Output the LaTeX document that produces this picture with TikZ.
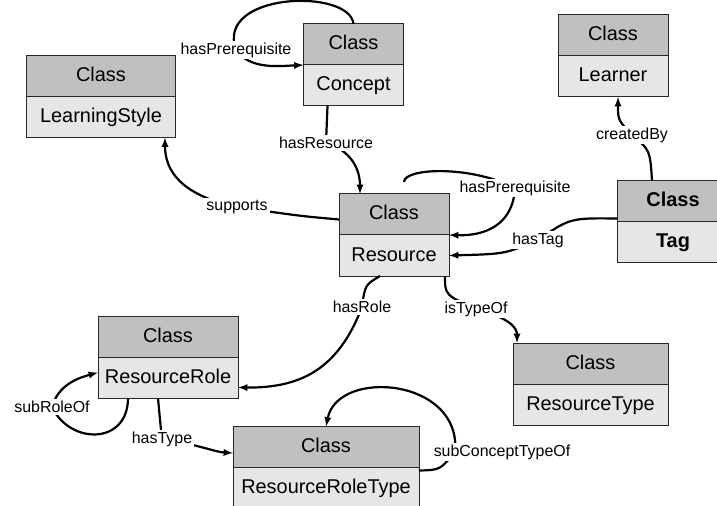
\documentclass[tikz,border=0pt]{standalone}
\usepackage{fontspec}
\setmainfont{Liberation Sans}
\usetikzlibrary{positioning}
\definecolor{headgray}{RGB}{192,192,192}
\definecolor{bodygray}{RGB}{230,230,230}
\definecolor{framegray}{RGB}{40,40,40}
\newcommand{\boxfont}{\fontsize{20}{24}\selectfont}
\newcommand{\lblfont}{\fontsize{16}{19}\selectfont}
\tikzset{arrow/.style={->, >=latex, line width=2.2bp}}
\tikzset{edgelabel/.style={font=\lblfont, fill=white, inner sep=2bp}}
\tikzset{classhead/.style={draw=framegray, line width=1bp, fill=headgray, font=\boxfont,
    minimum height=41bp, text height=15bp, text depth=4bp, inner sep=0pt, outer sep=0pt}}
\tikzset{classbody/.style={classhead, fill=bodygray}}
\newcommand{\classbox}[5][]{%
  \node[classhead, minimum width=#4, #1] (#2H) at (#3) {Class};
  \node[classbody, minimum width=#4, #1, below=0pt of #2H] (#2) {#5};}

\begin{document}
\begin{tikzpicture}[x=1bp, y=-1bp]
      \useasboundingbox (0,0) rectangle (717,506);

      \classbox{ls}{101,76}{148bp}{LearningStyle}
      \classbox{con}{353.5,44.5}{100bp}{Concept}
      \classbox{lrn}{613,35.5}{110bp}{Learner}
      \classbox{res}{394,214.5}{110bp}{Resource}
      \classbox[font=\boxfont\bfseries]{tag}{673,201}{112bp}{Tag}
      \classbox{rr}{168,336.5}{140bp}{ResourceRole}
      \classbox{rrt}{326,447}{186bp}{ResourceRoleType}
      \classbox{rt}{590.5,363.5}{155bp}{ResourceType}

      \draw[arrow] (conH.north) .. controls (350,-12) and (215,-8) .. (236,50)
        node[edgelabel] (preC) {hasPrerequisite} .. controls (250,70) and (280,66) .. (con.north west);
      \draw[arrow] ([xshift=-26bp]con.south) .. controls (326,125) .. (326,143)
        node[edgelabel] (resof) {hasResource} .. controls (350,150) and (360,168) .. ([xshift=-34bp]resH.north);
      \draw[arrow] ([yshift=-5bp]resH.west) .. controls (300,216) .. (237,207)
        node[edgelabel] (supp) {supports} .. controls (180,195) and (165,170) .. ([xshift=-10bp]ls.south east);
      \draw[arrow, shorten <=12bp] ([xshift=10bp]resH.north) .. controls (404,168) and (470,165) .. (515,188)
        node[edgelabel] (preR) {hasPrerequisite} .. controls (513,225) and (485,236) .. (res.north east);
      \draw[arrow] ([yshift=3bp]tagH.south west) .. controls (570,218) .. (538,240)
        node[edgelabel] (tagof) {hasTag} .. controls (505,254) .. (res.east);
      \draw[arrow] ([xshift=-21bp]tagH.north) .. controls (650,150) .. (632,135)
        node[edgelabel] (creat) {createdBy} .. controls (618,120) .. ([xshift=5bp]lrn.south);
      \draw[arrow] ([xshift=-14bp]res.south) .. controls (365,285) .. (362,307)
        node[edgelabel] (role) {hasRole} .. controls (338,370) and (300,388) .. ([yshift=-10bp]rr.east);
      \draw[arrow] ([xshift=-4bp]res.south east) .. controls (445,295) .. (476,309)
        node[edgelabel] (typeof) {isTypeOf} .. controls (510,318) and (517,328) .. ([xshift=4bp]rtH.north west);
      \draw[arrow] ([xshift=-40bp]rr.south) .. controls (128,445) and (70,445) .. (52,407)
        node[edgelabel] (subrole) {subRoleOf} .. controls (58,385) and (78,378) .. ([yshift=5bp]rr.west);
      \draw[arrow] ([xshift=-10bp]rr.south) .. controls (160,420) .. (162,439)
        node[edgelabel] (type) {hasType} .. controls (200,445) and (215,452) .. ([yshift=-6bp]rrtH.west);
      \draw[arrow] ([yshift=-3bp]rrt.north east) .. controls (440,470) .. (455,452)
        node[edgelabel, xshift=47bp] (subtype) {subConceptTypeOf} .. controls (462,378) and (338,368) .. (rrtH.north);
\end{tikzpicture}
\end{document}
